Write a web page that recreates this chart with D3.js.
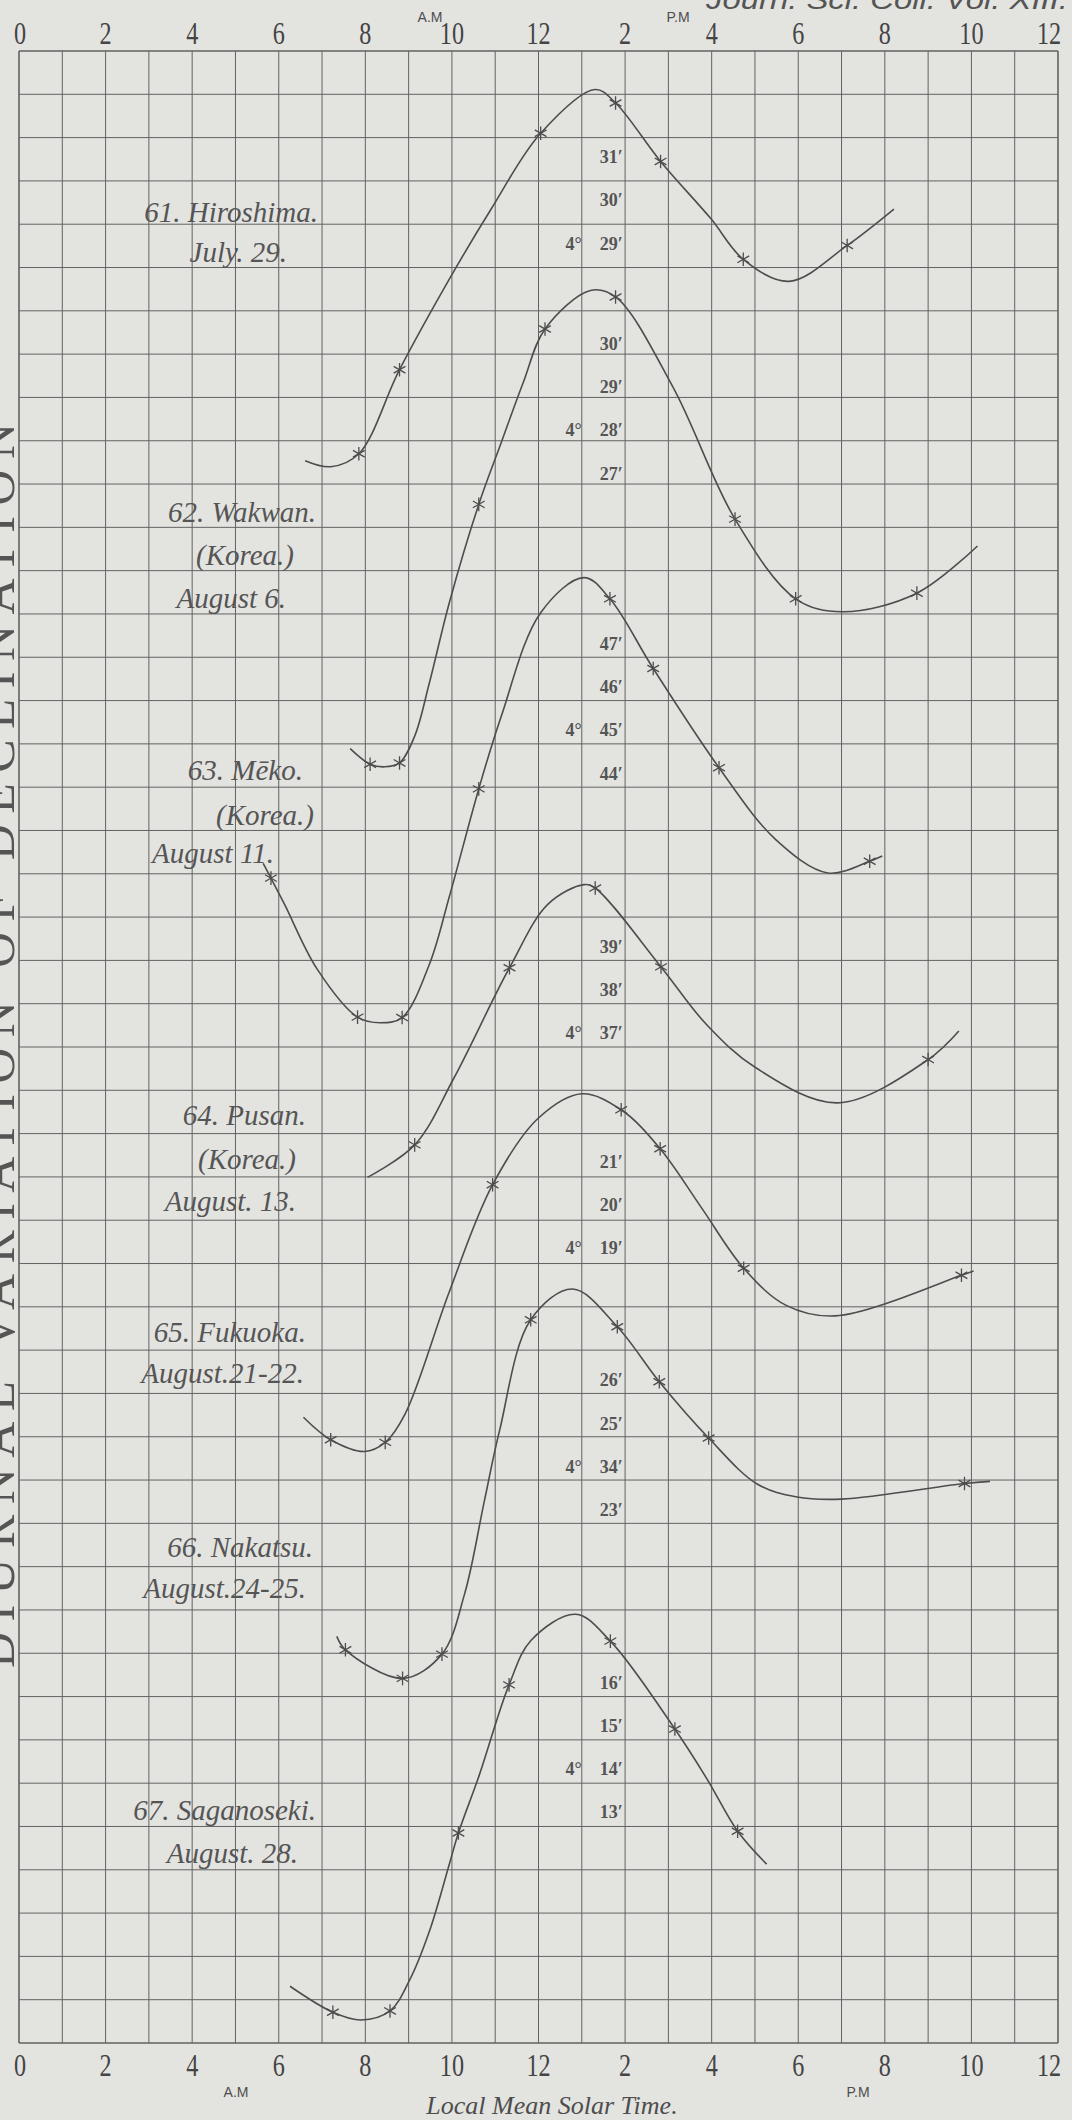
<!DOCTYPE html>
<html>
<head>
<meta charset="utf-8">
<script src="https://cdn.jsdelivr.net/npm/d3@7"></script>
<style>
  body { margin: 0; background: #e3e3e0; }
  svg { display: block; }
</style>
</head>
<body>
<svg id="chart" width="1072" height="2120"></svg>
<script>
// hour ticks along top and bottom (0..24, labelled in 12h clock)
var tickHours = [0, 2, 4, 6, 8, 10, 12, 14, 16, 18, 20, 22, 24]
var tickLabels = ["0", "2", "4", "6", "8", "10", "12", "2", "4", "6", "8", "10", "12"]

// each point: [local mean hour, minutes of declination above 4°, star?]
var hiroshima = [[6.61,23.98,0],[7.2,23.84,0],[7.85,24.14,1],[8.79,26.08,1],[9.98,28.24,0],[10.9,29.78,0],
  [12.05,31.54,1],[13.31,32.55,0],[13.78,32.24,1],[14.82,30.89,1],[15.98,29.57,0],[16.73,28.63,1],
  [17.79,28.12,0],[19.13,28.95,1],[20.21,29.79,0]]
var wakwan = [[7.65,20.64,0],[8.11,20.28,1],[8.45,20.22,0],[8.79,20.31,1],[9.14,20.93,0],[9.48,22.16,0],
  [9.94,24.01,0],[10.62,26.28,1],[11.14,27.71,0],[11.65,29.1,0],[12.15,30.33,1],[13.2,31.22,0],
  [13.78,31.07,1],[15.1,29.0,0],[16.54,25.94,1],[17.94,24.1,1],[19.02,23.8,0],[20.74,24.23,1],[22.14,25.32,0]]
var meko = [[5.64,41.92,0],[5.82,41.58,1],[6.14,40.96,0],[6.88,39.49,0],[7.82,38.37,1],[8.34,38.24,0],
  [8.85,38.36,1],[9.48,39.59,0],[9.94,41.15,0],[10.62,43.64,1],[11.14,45.32,0],[12.05,47.71,0],
  [13.05,48.52,0],[13.65,48.03,1],[14.65,46.42,1],[16.17,44.13,1],[17.48,42.47,0],[18.68,41.7,0],
  [19.65,41.97,1],[19.94,42.09,0]]
var pusan = [[8.05,33.67,0],[9.14,34.42,1],[10.05,35.97,0],[11.33,38.51,1],[12.22,39.98,0],[13.05,40.43,0],
  [13.31,40.35,1],[14.83,38.53,1],[15.88,37.2,0],[17.02,36.2,0],[18.91,35.39,0],[21.0,36.39,1],[21.71,37.05,0]]
var fukuoka = [[6.57,15.09,0],[7.2,14.57,1],[7.98,14.3,0],[8.46,14.51,1],[8.92,15.17,0],[9.94,17.99,0],
  [10.94,20.46,1],[12.0,22.0,0],[13.0,22.56,0],[13.91,22.19,1],[14.81,21.29,1],[15.77,19.92,0],
  [16.74,18.53,1],[17.71,17.68,0],[18.85,17.43,0],[21.77,18.37,1],[22.05,18.47,0]]
var nakatsu = [[7.34,20.08,0],[7.54,19.77,1],[8.86,19.11,1],[9.77,19.67,1],[10.29,21.05,0],[10.75,23.21,0],
  [11.1,24.83,0],[11.82,27.39,1],[12.79,28.1,0],[13.82,27.23,1],[14.79,25.96,1],[15.93,24.66,1],
  [17.05,23.6,0],[17.97,23.3,0],[19.0,23.25,0],[21.84,23.61,1],[22.43,23.66,0]]
var saganoseki = [[6.26,8.98,0],[7.25,8.38,1],[7.9,8.2,0],[8.57,8.41,1],[9.03,9.14,0],[9.49,10.28,0],
  [9.94,11.8,0],[10.15,12.52,1],[10.63,13.85,0],[11.32,15.94,1],[11.83,16.97,0],[12.86,17.57,0],
  [13.66,16.95,1],[15.15,14.92,1],[15.89,13.77,0],[16.6,12.56,1],[17.27,11.8,0]]

var stationData = [hiroshima, wakwan, meko, pusan, fukuoka, nakatsu, saganoseki]
var stationNames = [
  ["61. Hiroshima.", "July. 29."],
  ["62. Wakwan.", "(Korea.)", "August 6."],
  ["63. Mēko.", "(Korea.)", "August 11."],
  ["64. Pusan.", "(Korea.)", "August. 13."],
  ["65. Fukuoka.", "August.21-22."],
  ["66. Nakatsu.", "August.24-25."],
  ["67. Saganoseki.", "August. 28."]
]
// minute ticks printed beside each curve, and which one carries the 4°
var stationTicks = [[31,30,29],[30,29,28,27],[47,46,45,44],[39,38,37],[21,20,19],[26,25,24,23],[16,15,14,13]]
var stationTickText = [["31","30","29"],["30","29","28","27"],["47","46","45","44"],["39","38","37"],
  ["21","20","19"],["26","25","34","23"],["16","15","14","13"]]
var stationDegreeAt = [29, 28, 45, 37, 19, 24, 14]

// layout: grid row where each station's first minute tick sits, and name label placement
var tickRow = [2.44, 6.75, 13.68, 20.68, 25.64, 30.69, 37.67]
var nameRight = [[318,287],[316,294,286],[303,314,274],[306,296,296],[306,304],[313,306],[316,298]]
var nameBase = [[222,262],[522,565,608],[780,825,863],[1125,1169,1211],[1342,1383],[1557,1598],[1820,1863]]

var svg = d3.select("#chart")
var ink = "#4d4d4d"

var x = d3.scaleLinear().domain([0, 24]).range([19, 1058])
var row = d3.scaleLinear().domain([0, 46]).range([51, 2043])

// grid
var grid = svg.append("g").attr("id", "grid")
grid.selectAll("line.v").data(d3.range(0, 25)).enter()
    .append("line")
    .attr("x1", function(d){ return x(d) })
    .attr("x2", function(d){ return x(d) })
    .attr("y1", row(0))
    .attr("y2", row(46))
    .attr("stroke", "#626262")
    .attr("stroke-width", function(d){ return (d==0 || d==24) ? 1.6 : 1 })
grid.selectAll("line.h").data(d3.range(0, 47)).enter()
    .append("line")
    .attr("x1", x(0))
    .attr("x2", x(24))
    .attr("y1", function(d){ return row(d) })
    .attr("y2", function(d){ return row(d) })
    .attr("stroke", "#626262")
    .attr("stroke-width", function(d){ return (d==0 || d==46) ? 1.6 : 1 })

// hour labels top and bottom
function hourLabels(yPos){
  svg.append("g").selectAll("text").data(tickHours).enter()
     .append("text")
     .attr("transform", function(d, i){
       var xx = x(d)
       if (i == 0) xx += 1
       if (i == tickHours.length - 1) xx -= 9
       return "translate(" + xx + "," + yPos + ") scale(0.78,1)"
     })
     .attr("text-anchor", "middle")
     .attr("font-family", "Liberation Serif")
     .attr("font-size", 31)
     .attr("fill", "#444")
     .text(function(d, i){ return tickLabels[i] })
}
hourLabels(44)
hourLabels(2076)

function smallText(t, xx, yy){
  svg.append("text").attr("x", xx).attr("y", yy)
     .attr("text-anchor", "middle")
     .attr("font-family", "Liberation Sans")
     .attr("font-size", 14)
     .attr("fill", ink)
     .text(t)
}
smallText("A.M", 430, 22)
smallText("P.M", 678, 22)
smallText("A.M", 236, 2097)
smallText("P.M", 858, 2097)

svg.append("text")
   .attr("x", 552).attr("y", 2114)
   .attr("text-anchor", "middle")
   .attr("font-family", "Liberation Serif")
   .attr("font-style", "italic")
   .attr("font-size", 26)
   .attr("fill", ink)
   .text("Local Mean  Solar Time.")

// header, cut by the top edge
svg.append("text")
   .attr("x", 1068).attr("y", 9)
   .attr("text-anchor", "end")
   .attr("font-family", "Liberation Sans")
   .attr("font-style", "italic")
   .attr("font-size", 27)
   .attr("fill", "#555")
   .attr("textLength", 362)
   .attr("lengthAdjust", "spacingAndGlyphs")
   .text("Journ. Sci. Coll. Vol. XIII.")

// side title, mostly cut by the left edge
svg.append("text")
   .attr("transform", "translate(14,1668) rotate(-90)")
   .attr("font-family", "Liberation Serif")
   .attr("font-size", 50)
   .attr("fill", "#555")
   .attr("textLength", 1245)
   .attr("lengthAdjust", "spacing")
   .text("DIURNAL  VARIATION  OF  DECLINATION")

var line = d3.line().curve(d3.curveCatmullRom.alpha(0.5))
var star = d3.symbol().type(d3.symbolAsterisk).size(130)

stationData.forEach(function(data, s){
  var refMin = stationTicks[s][0]
  var y = d3.scaleLinear()
            .domain([refMin, refMin - 46])
            .range([row(tickRow[s]), row(tickRow[s] + 46)])

  var g = svg.append("g").attr("class", "station")

  g.append("path")
   .attr("d", line(data.map(function(d){ return [x(d[0]), y(d[1])] })))
   .attr("fill", "none")
   .attr("stroke", ink)
   .attr("stroke-width", 1.6)

  g.selectAll("path.star").data(data.filter(function(d){ return d[2] == 1 })).enter()
   .append("path")
   .attr("d", star)
   .attr("transform", function(d){ return "translate(" + x(d[0]) + "," + y(d[1]) + ")" })
   .attr("fill", "none")
   .attr("stroke", ink)
   .attr("stroke-width", 1.3)

  g.selectAll("text.min").data(stationTicks[s]).enter()
   .append("text")
   .attr("x", x(13.95))
   .attr("y", function(d){ return y(d) })
   .attr("dy", "0.35em")
   .attr("text-anchor", "end")
   .attr("font-family", "Liberation Serif")
   .attr("font-weight", "bold")
   .attr("font-size", 18)
   .attr("fill", "#555")
   .text(function(d, i){ return stationTickText[s][i] + "′" })

  g.append("text")
   .attr("x", x(13.0))
   .attr("y", y(stationDegreeAt[s]))
   .attr("dy", "0.35em")
   .attr("text-anchor", "end")
   .attr("font-family", "Liberation Serif")
   .attr("font-weight", "bold")
   .attr("font-size", 18)
   .attr("fill", "#555")
   .text("4°")

  g.selectAll("text.name").data(stationNames[s]).enter()
   .append("text")
   .attr("x", function(d, i){ return nameRight[s][i] })
   .attr("y", function(d, i){ return nameBase[s][i] })
   .attr("text-anchor", "end")
   .attr("font-family", "Liberation Serif")
   .attr("font-style", "italic")
   .attr("font-size", 29)
   .attr("fill", "#555")
   .text(function(d){ return d })
})
</script>
</body>
</html>
